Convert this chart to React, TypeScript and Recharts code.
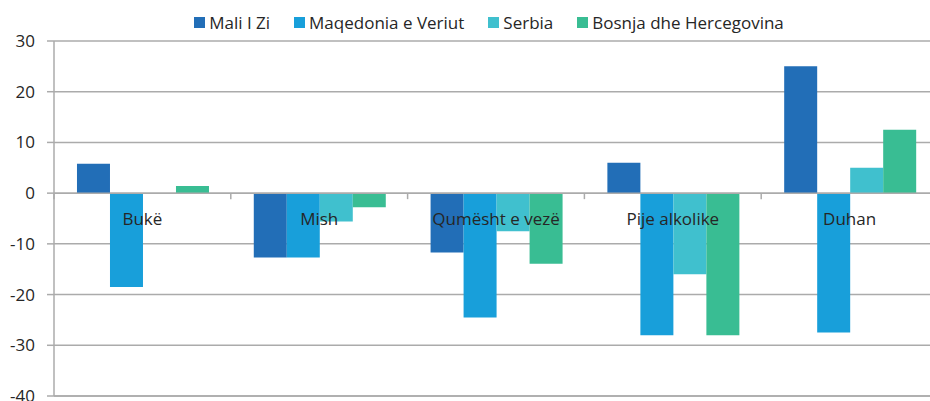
import React from 'react';
import {
  BarChart,
  Bar,
  XAxis,
  YAxis,
  CartesianGrid,
  Legend,
  ReferenceLine,
} from 'recharts';

const categories = ['Bukë', 'Mish', 'Qumësht e vezë', 'Pije alkolike', 'Duhan'];
const maliIZi = [5.8, -12.7, -11.7, 6.0, 25.0];
const maqedonia = [-18.5, -12.7, -24.5, -28.0, -27.5];
const serbia = [0, -5.6, -7.5, -16.0, 5.0];
const bosnja = [1.4, -2.8, -13.9, -28.0, 12.5];
const yTicks = [-40, -30, -20, -10, 0, 10, 20, 30];

const series = [
  { key: 'mali', name: 'Mali I Zi', color: '#226EB7' },
  { key: 'maqedonia', name: 'Maqedonia e Veriut', color: '#189FDA' },
  { key: 'serbia', name: 'Serbia', color: '#40C0CE' },
  { key: 'bosnja', name: 'Bosnja dhe Hercegovina', color: '#39BD93' },
];

const data = categories.map((name, i) => ({
  name,
  mali: maliIZi[i],
  maqedonia: maqedonia[i],
  serbia: serbia[i],
  bosnja: bosnja[i],
}));

const FONT = '"Open Sans", "Noto Sans", sans-serif';
const TEXT = '#262626';
const GRID = '#ABABAB';

// the original plot runs a bit past the right edge of the picture, so the
// chart is drawn wider and clipped by the wrapper
const VIEW_W = 930;
const VIEW_H = 401;
const CHART_W = 940;
const PLOT_TOP = 41;
const PLOT_BOTTOM = 396;
const PLOT_LEFT = 54;
const PLOT_RIGHT = 938;
const LEGEND_H = 24;
const Y_MIN = -40;
const Y_MAX = 30;
const zeroY = PLOT_TOP + ((PLOT_BOTTOM - PLOT_TOP) * Y_MAX) / (Y_MAX - Y_MIN);
const band = (PLOT_RIGHT - PLOT_LEFT) / categories.length;

const CategoryTick = (props: any) => {
  const { x, payload, index } = props;
  return (
    <g>
      <line x1={x - band / 2} x2={x - band / 2} y1={zeroY} y2={zeroY + 6} stroke={GRID} strokeWidth={1.5} />
      {index === categories.length - 1 && (
        <line x1={x + band / 2} x2={x + band / 2} y1={zeroY} y2={zeroY + 6} stroke={GRID} strokeWidth={1.5} />
      )}
      <text x={x} y={zeroY + 32} textAnchor="middle" fill={TEXT} fontSize={17} fontFamily={FONT}>
        {payload.value}
      </text>
    </g>
  );
};

const LegendContent = () => (
  <div
    style={{
      display: 'flex',
      justifyContent: 'center',
      alignItems: 'center',
      width: VIEW_W,
      boxSizing: 'border-box',
      paddingLeft: 48,
      fontFamily: FONT,
      fontSize: 17,
      color: TEXT,
      gap: 24,
      height: LEGEND_H,
    }}
  >
    {series.map(s => (
      <span key={s.key} style={{ display: 'flex', alignItems: 'center' }}>
        <span style={{ width: 11, height: 11, background: s.color, marginRight: 4, display: 'inline-block' }} />
        {s.name}
      </span>
    ))}
  </div>
);

export default function App() {
  return (
    <div
      style={{
        position: 'absolute',
        left: 0,
        top: 0,
        width: VIEW_W,
        height: VIEW_H,
        overflow: 'hidden',
        background: '#fff',
      }}
    >
      <BarChart
        width={CHART_W}
        height={VIEW_H}
        data={data}
        margin={{ top: PLOT_TOP - LEGEND_H, right: CHART_W - PLOT_RIGHT, bottom: 0, left: 0 }}
        barCategoryGap="13%"
        barGap={0}
      >
        <CartesianGrid vertical={false} stroke={GRID} strokeWidth={1.5} />
        <XAxis
          dataKey="name"
          height={VIEW_H - PLOT_BOTTOM}
          tickLine={false}
          axisLine={{ stroke: GRID, strokeWidth: 1.5 }}
          tick={<CategoryTick />}
          interval={0}
        />
        <YAxis
          width={PLOT_LEFT}
          domain={[Y_MIN, Y_MAX]}
          ticks={yTicks}
          interval={0}
          tickSize={7}
          tickMargin={12}
          tickLine={{ stroke: GRID, strokeWidth: 1.5 }}
          axisLine={{ stroke: GRID, strokeWidth: 1.5 }}
          tick={{ fill: TEXT, fontSize: 17, fontFamily: FONT }}
        />
        <ReferenceLine y={0} stroke={GRID} strokeWidth={1.5} />
        <Legend
          verticalAlign="top"
          height={LEGEND_H}
          content={<LegendContent />}
          wrapperStyle={{ top: 10, left: 0, width: VIEW_W }}
        />
        {series.map(s => (
          <Bar key={s.key} dataKey={s.key} name={s.name} fill={s.color} isAnimationActive={false} />
        ))}
      </BarChart>
    </div>
  );
}
